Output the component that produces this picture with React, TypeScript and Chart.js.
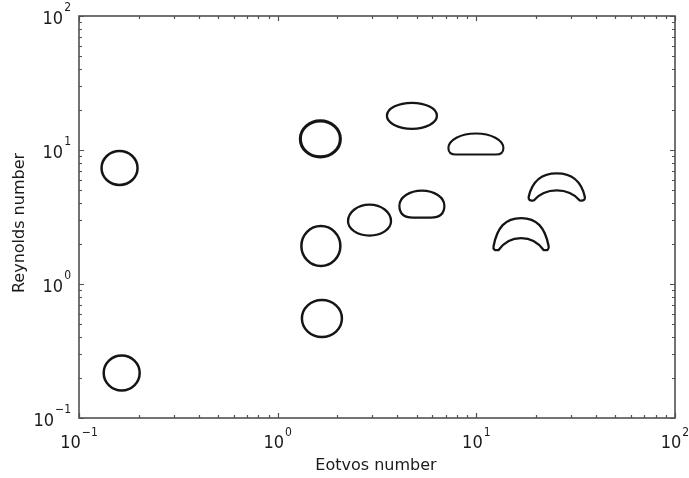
import { useEffect, useRef } from 'react';
import { Chart, registerables } from 'chart.js';

Chart.register(...registerables);

// ---- data ----
const EOTVOS = [0.16, 0.164, 1.64, 1.65, 1.67, 2.9, 4.74, 5.32, 9.95, 16.8, 25.4];
const REYNOLDS = [7.34, 0.217, 12.1, 1.92, 0.553, 3.0, 18.0, 3.95, 11.1, 2.36, 5.3];
const REGIMES = ['sphere', 'sphere', 'sphere', 'sphere', 'sphere', 'oblate', 'ellipsoid', 'dome', 'cap', 'crescent', 'crescent'];
const X_TICKS = [0.1, 1, 10, 100];
const Y_TICKS = [0.1, 1, 10, 100];
const X_TITLE = 'Eotvos number';
const Y_TITLE = 'Reynolds number';

// ---- styles ----
const BUBBLE_W = [36, 36, 40, 39, 40, 43, 50, 45, 55, 57, 58];
const BUBBLE_H = [34, 35, 36, 40, 37, 31, 26, 27, 21, 32, 27];
const BUBBLE_LW = [2.5, 2.5, 3.1, 2.5, 2.5, 2.3, 2.3, 2.2, 2.1, 2.3, 2.3];
const INK = '#151515';
const FRAME = '#505050';
const TICK_FONT = '"Liberation Sans Narrow", "DejaVu Sans Condensed", sans-serif';
const TITLE_FONT = '"DejaVu Sans", sans-serif';

function pathBubble(ctx: CanvasRenderingContext2D, kind: string, cx: number, cy: number, w: number, h: number) {
  const L = cx - w / 2, R = cx + w / 2, T = cy - h / 2, B = cy + h / 2;
  ctx.beginPath();
  if (kind === 'sphere' || kind === 'ellipsoid') {
    ctx.ellipse(cx, cy, w / 2, h / 2, 0, 0, Math.PI * 2);
  } else if (kind === 'oblate') {
    const f = 0.54;
    const yb = T + h * f;
    ctx.ellipse(cx, yb, w / 2, h * f, 0, Math.PI, Math.PI * 2);
    ctx.ellipse(cx, yb, w / 2, h * (1 - f), 0, 0, Math.PI);
  } else if (kind === 'dome' || kind === 'cap') {
    const f = kind === 'dome' ? 0.56 : 0.7;
    const r = kind === 'dome' ? w * 0.3 : w * 0.14;
    const yb = T + h * f;
    ctx.ellipse(cx, yb, w / 2, h * f, 0, Math.PI, Math.PI * 2);
    ctx.quadraticCurveTo(R, B, R - r, B);
    ctx.lineTo(L + r, B);
    ctx.quadraticCurveTo(L, B, L, yb);
  } else if (kind === 'crescent') {
    const d = h * 0.5;
    ctx.moveTo(L + 6, B);
    ctx.quadraticCurveTo(L, B + 1, L + 1, B - 4);
    ctx.bezierCurveTo(L + w * 0.08, T + h * 0.3, cx - w * 0.28, T, cx, T);
    ctx.bezierCurveTo(cx + w * 0.28, T, R - w * 0.08, T + h * 0.3, R - 1, B - 4);
    ctx.quadraticCurveTo(R, B + 1, R - 6, B);
    ctx.bezierCurveTo(R - w * 0.3, B - d, L + w * 0.3, B - d, L + 6, B);
  }
  ctx.closePath();
}

function expText(v: number) {
  const e = Math.round(Math.log10(v));
  return e < 0 ? '\u2212' + String(-e) : String(e);
}

const bubblePlugin = {
  id: 'bubbles',
  afterDatasetsDraw(chart: any) {
    const ctx = chart.ctx as CanvasRenderingContext2D;
    const meta = chart.getDatasetMeta(0);
    ctx.save();
    ctx.strokeStyle = INK;
    ctx.lineJoin = 'round';
    meta.data.forEach((pt: any, i: number) => {
      ctx.lineWidth = BUBBLE_LW[i];
      pathBubble(ctx, REGIMES[i], pt.x, pt.y, BUBBLE_W[i], BUBBLE_H[i]);
      ctx.stroke();
    });
    ctx.restore();
  },
};

const framePlugin = {
  id: 'frame',
  afterDraw(chart: any) {
    const ctx = chart.ctx as CanvasRenderingContext2D;
    const a = chart.chartArea;
    const xs = chart.scales.x;
    const ys = chart.scales.y;
    ctx.save();
    ctx.strokeStyle = FRAME;
    ctx.lineWidth = 1.2;
    const xVals: number[] = [];
    const yVals: number[] = [];
    for (let i = 0; i < X_TICKS.length; i++) {
      xVals.push(X_TICKS[i]);
      if (i < X_TICKS.length - 1) for (let k = 2; k <= 9; k++) xVals.push(X_TICKS[i] * k);
    }
    for (let i = 0; i < Y_TICKS.length; i++) {
      yVals.push(Y_TICKS[i]);
      if (i < Y_TICKS.length - 1) for (let k = 2; k <= 9; k++) yVals.push(Y_TICKS[i] * k);
    }
    ctx.beginPath();
    xVals.forEach((v) => {
      const major = X_TICKS.includes(v);
      const len = major ? 5 : 3;
      const px = Math.round(xs.getPixelForValue(v)) + 0.5;
      ctx.moveTo(px, a.bottom);
      ctx.lineTo(px, a.bottom - len);
      ctx.moveTo(px, a.top);
      ctx.lineTo(px, a.top + len);
    });
    yVals.forEach((v) => {
      const major = Y_TICKS.includes(v);
      const len = major ? 5 : 3;
      const py = Math.round(ys.getPixelForValue(v)) + 0.5;
      ctx.moveTo(a.left, py);
      ctx.lineTo(a.left + len, py);
      ctx.moveTo(a.right, py);
      ctx.lineTo(a.right - len, py);
    });
    ctx.stroke();
    ctx.lineWidth = 1.6;
    ctx.strokeRect(a.left, a.top, a.right - a.left, a.bottom - a.top);

    ctx.fillStyle = '#1a1a1a';
    ctx.textBaseline = 'alphabetic';
    ctx.textAlign = 'left';
    const baseFont = '18px ' + TICK_FONT;
    const expFont = '12px ' + TICK_FONT;
    X_TICKS.forEach((v) => {
      const px = xs.getPixelForValue(v);
      ctx.font = baseFont;
      const wb = ctx.measureText('10').width;
      ctx.font = expFont;
      const ex = expText(v);
      const we = ctx.measureText(ex).width;
      const sx = px - (wb + 1 + we) / 2;
      ctx.font = baseFont;
      ctx.fillText('10', sx, a.bottom + 30);
      ctx.font = expFont;
      ctx.fillText(ex, sx + wb + 1, a.bottom + 18);
    });
    Y_TICKS.forEach((v) => {
      const py = ys.getPixelForValue(v);
      ctx.font = baseFont;
      const wb = ctx.measureText('10').width;
      ctx.font = expFont;
      const ex = expText(v);
      const we = ctx.measureText(ex).width;
      const sx = a.left - 8 - (wb + 1 + we);
      ctx.font = baseFont;
      ctx.fillText('10', sx, py + 8);
      ctx.font = expFont;
      ctx.fillText(ex, sx + wb + 1, py - 5);
    });

    ctx.font = '16px ' + TITLE_FONT;
    ctx.textAlign = 'center';
    ctx.textBaseline = 'middle';
    ctx.fillText(X_TITLE, (a.left + a.right) / 2 - 1, 466);
    ctx.save();
    ctx.translate(20, (a.top + a.bottom) / 2 + 6);
    ctx.rotate(-Math.PI / 2);
    ctx.fillText(Y_TITLE, 0, 0);
    ctx.restore();
    ctx.restore();
  },
};

export default function App() {
  const ref = useRef<HTMLCanvasElement | null>(null);
  useEffect(() => {
    if (!ref.current) return;
    const chart = new Chart(ref.current, {
      type: 'scatter',
      data: {
        datasets: [
          {
            label: 'bubble shapes',
            data: EOTVOS.map((x, i) => ({ x, y: REYNOLDS[i] })),
            pointRadius: 0,
            pointHoverRadius: 0,
            showLine: false,
          },
        ],
      },
      options: {
        animation: false,
        responsive: false,
        devicePixelRatio: 1,
        events: [],
        layout: { padding: { top: 16, right: 14, left: 0, bottom: 0 } },
        plugins: { legend: { display: false }, tooltip: { enabled: false } },
        scales: {
          x: {
            type: 'logarithmic',
            min: 0.1,
            max: 100,
            grid: { display: false },
            border: { display: false },
            ticks: { display: false },
            afterFit: (s: any) => { s.height = 60; },
          },
          y: {
            type: 'logarithmic',
            min: 0.1,
            max: 100,
            grid: { display: false },
            border: { display: false },
            ticks: { display: false },
            afterFit: (s: any) => { s.width = 79; },
          },
        },
      } as any,
      plugins: [bubblePlugin, framePlugin],
    });
    return () => chart.destroy();
  }, []);
  return (
    <div style={{ position: 'absolute', left: 0, top: 0, width: 689, height: 478, background: '#fff' }}>
      <canvas ref={ref} width={689} height={478} style={{ display: 'block' }} />
    </div>
  );
}
